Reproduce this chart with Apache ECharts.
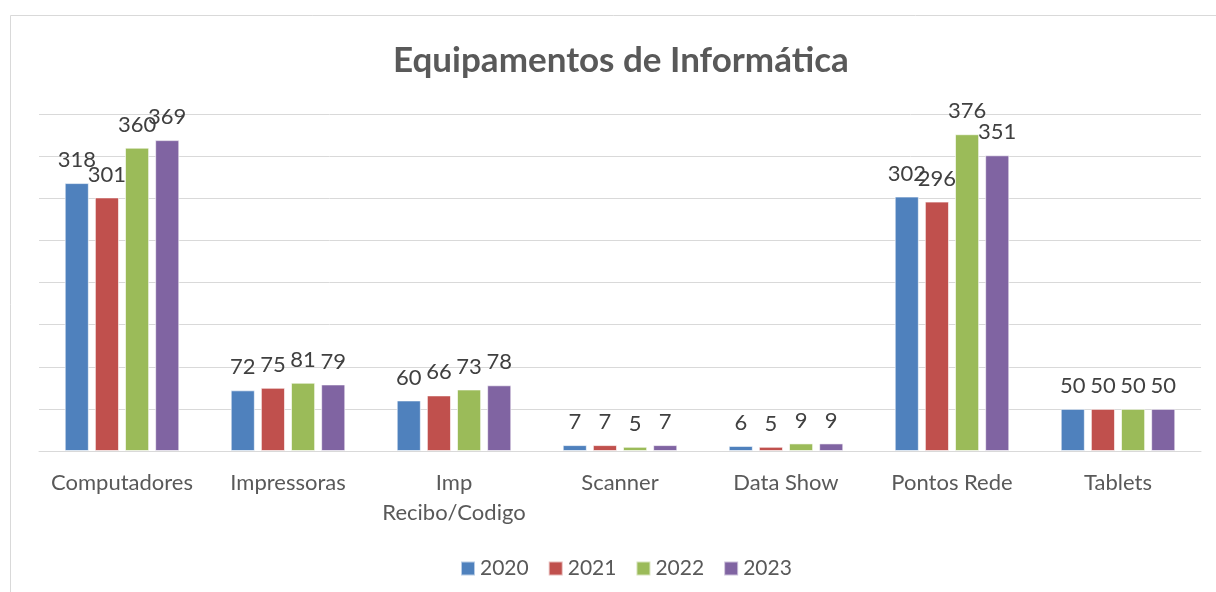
<!DOCTYPE html>
<html>
<head>
<meta charset="utf-8">
<script src="https://cdn.jsdelivr.net/npm/echarts@6/dist/echarts.min.js"></script>
<style>
  html, body { margin: 0; padding: 0; background: #fff; }
  #chart { width: 1216px; height: 592px; }
</style>
</head>
<body>
<div id="chart"></div>
<script>
const categories = ['Computadores', 'Impressoras', 'Imp Recibo/Codigo', 'Scanner', 'Data Show', 'Pontos Rede', 'Tablets']
const years = ['2020', '2021', '2022', '2023']
const values2020 = [318, 72, 60, 7, 6, 302, 50]
const values2021 = [301, 75, 66, 7, 5, 296, 50]
const values2022 = [360, 81, 73, 5, 9, 376, 50]
const values2023 = [369, 79, 78, 7, 9, 351, 50]
const colors = ['#4F81BD', '#C0504D', '#9BBB59', '#8064A2']

const font = 'Lato, "Open Sans", sans-serif'
const allValues = [values2020, values2021, values2022, values2023]

var chart = echarts.init(document.getElementById('chart'))

var series = years.map(function (y, i) {
    return {
        name: y,
        type: 'bar',
        data: allValues[i],
        barGap: '25%',
        barCategoryGap: '31%',
        itemStyle: {
            color: colors[i],
            borderColor: 'rgba(255,255,255,0.6)',
            borderWidth: 1
        },
        label: {
            show: true,
            position: 'top',
            distance: 12,
            fontSize: 22,
            color: '#404040',
            fontFamily: font
        }
    }
})

var option = {
    animation: false,
    color: colors,
    title: {
        text: 'Equipamentos de Informática',
        left: 388,
        top: 38,
        textStyle: {
            fontSize: 35,
            fontWeight: 'bold',
            color: '#595959',
            fontFamily: font
        }
    },
    legend: {
        data: years,
        left: 455,
        top: 553,
        itemWidth: 14,
        itemHeight: 14,
        itemGap: 19,
        icon: 'rect',
        textStyle: {
            fontSize: 21,
            color: '#595959',
            fontFamily: font
        }
    },
    grid: {
        left: 39,
        right: 15,
        top: 114,
        height: 337
    },
    xAxis: {
        type: 'category',
        data: categories,
        axisLine: { show: true, lineStyle: { color: '#d9d9d9', width: 1 } },
        axisTick: { show: false },
        axisLabel: {
            fontSize: 22,
            color: '#595959',
            fontFamily: font,
            margin: 17,
            lineHeight: 30,
            interval: 0,
            formatter: function (v) { return v.replace('Imp ', 'Imp\n') }
        }
    },
    yAxis: {
        type: 'value',
        min: 0,
        max: 400,
        interval: 50,
        axisLabel: { show: false },
        axisLine: { show: false },
        axisTick: { show: false },
        splitLine: { lineStyle: { color: '#d9d9d9', width: 1 } }
    },
    graphic: [{
        type: 'rect',
        shape: { x: 10.5, y: 15.5, width: 1220, height: 600 },
        style: { fill: null, stroke: '#d9d9d9', lineWidth: 1 },
        silent: true,
        z: -10
    }],
    series: series
}

chart.setOption(option)
</script>
</body>
</html>
